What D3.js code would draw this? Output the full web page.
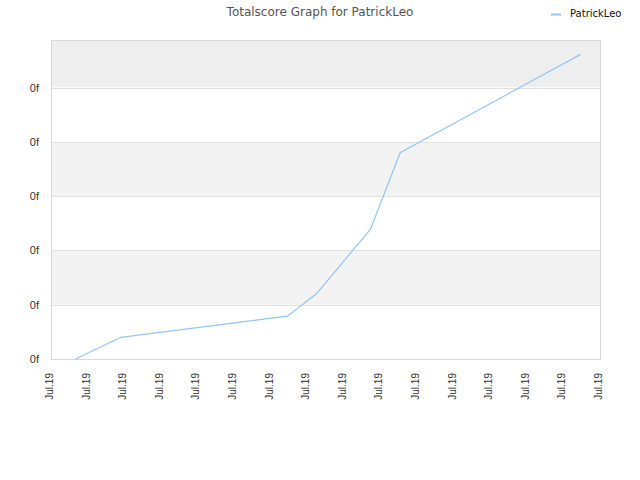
<!DOCTYPE html>
<html>
<head>
<meta charset="utf-8">
<script src="https://cdn.jsdelivr.net/npm/d3@7"></script>
<style>
body { margin: 0; background: #fff; }
svg { display: block; font-family: "DejaVu Sans", Verdana, sans-serif; }
</style>
</head>
<body>
<svg id="chart" width="640" height="480"></svg>
<script>
// Data
const seriesName = "PatrickLeo";
const titleText = "Totalscore Graph for PatrickLeo";
const xTickLabels = ["Jul.19","Jul.19","Jul.19","Jul.19","Jul.19","Jul.19","Jul.19","Jul.19","Jul.19","Jul.19","Jul.19","Jul.19","Jul.19","Jul.19","Jul.19","Jul.19"];
const xValues = [0.67, 1.91, 6.46, 7.25, 8.73, 9.54, 14.47];
const yValues = [0, 0.40, 0.79, 1.20, 2.39, 3.80, 5.61];
const yTickValues = [0, 1, 2, 3, 4, 5];
const yTickLabels = ["0f","0f","0f","0f","0f","0f"];

const svg = d3.select("#chart");
const pLeft = 51, pRight = 600, pTop = 40, pBottom = 359;

const x = d3.scaleLinear().domain([0, xTickLabels.length - 1]).range([pLeft, pRight]);
const y = d3.scaleLinear().domain([0, 5.875]).range([pBottom, pTop]);

// Background bands
const bandEdges = [y.domain()[1]].concat(yTickValues.slice().reverse());
const bandColors = ["#eeeeee", "#ffffff", "#f3f3f3", "#ffffff", "#f3f3f3", "#ffffff"];
for (let i = 0; i < bandEdges.length - 1; i++) {
  svg.append("rect")
    .attr("x", pLeft).attr("width", pRight - pLeft)
    .attr("y", y(bandEdges[i])).attr("height", y(bandEdges[i + 1]) - y(bandEdges[i]))
    .attr("fill", bandColors[i]);
}

// Gridlines
svg.append("g").selectAll("line").data(yTickValues).join("line")
  .attr("x1", pLeft).attr("x2", pRight)
  .attr("y1", d => Math.round(y(d)) + 0.5).attr("y2", d => Math.round(y(d)) + 0.5)
  .attr("stroke", "#e2e2e2").attr("stroke-width", 1);

// Border
svg.append("rect")
  .attr("x", pLeft + 0.5).attr("y", pTop + 0.5)
  .attr("width", pRight - pLeft).attr("height", pBottom - pTop)
  .attr("fill", "none").attr("stroke", "#d8d8d8").attr("stroke-width", 1);

// Y axis
const yAxis = d3.axisLeft(y).tickValues(yTickValues)
  .tickFormat((d, i) => yTickLabels[i]).tickSize(0).tickPadding(12);
const gy = svg.append("g").attr("transform", `translate(${pLeft},0)`).call(yAxis);
gy.select(".domain").remove();
gy.selectAll("text").attr("fill", "#333").style("font-size", "11px").attr("dy", "0.32em");

// X axis
const xAxis = d3.axisBottom(x).tickValues(d3.range(xTickLabels.length))
  .tickFormat((d, i) => xTickLabels[i]).tickSize(0);
const gx = svg.append("g").attr("transform", `translate(0,${pBottom})`).call(xAxis);
gx.select(".domain").remove();
gx.selectAll("text")
  .attr("fill", "#333").style("font-size", "10px")
  .attr("text-anchor", "end")
  .attr("transform", "rotate(-90)")
  .attr("x", -14).attr("y", -2).attr("dy", "0.35em");

// Line
const line = d3.line().x(d => x(d[0])).y(d => y(d[1]));
svg.append("path")
  .datum(xValues.map((v, i) => [v, yValues[i]]))
  .attr("d", line)
  .attr("fill", "none").attr("stroke", "#92c5f5").attr("stroke-width", 1.2);

// Title
svg.append("text").attr("x", 320).attr("y", 16).attr("text-anchor", "middle")
  .attr("fill", "#555").style("font-size", "12px").text(titleText);

// Legend
svg.append("line").attr("x1", 551).attr("x2", 561).attr("y1", 14.5).attr("y2", 14.5)
  .attr("stroke", "#92c5f5").attr("stroke-width", 2);
svg.append("text").attr("x", 570).attr("y", 17)
  .attr("fill", "#111").style("font-size", "10px").text(seriesName);
</script>
</body>
</html>
